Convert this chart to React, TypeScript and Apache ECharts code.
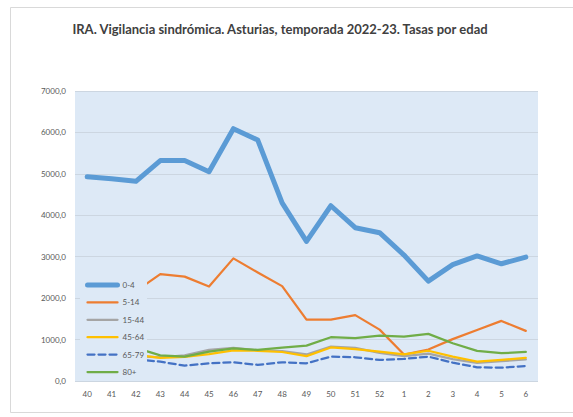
import React, { useEffect, useRef } from "react";
import * as echarts from "echarts";

const weeks = ["40","41","42","43","44","45","46","47","48","49","50","51","52","1","2","3","4","5","6"];
const s0_4 = [4930, 4880, 4820, 5320, 5320, 5050, 6090, 5815, 4300, 3370, 4230, 3700, 3580, 3040, 2410, 2810, 3020, 2830, 2990];
const s5_14 = [null, null, 2170, 2580, 2520, 2280, 2960, 2620, 2290, 1480, 1480, 1590, 1240, 640, 760, 1010, 1230, 1450, 1210];
const s15_44 = [null, null, 600, 570, 620, 750, 800, 740, 720, 640, 830, 800, 680, 600, 660, 530, 440, 480, 520];
const s45_64 = [null, null, 630, 560, 580, 650, 740, 730, 700, 600, 810, 770, 710, 640, 730, 590, 470, 510, 560];
const s65_79 = [null, null, 520, 467, 370, 428, 452, 390, 452, 428, 588, 573, 508, 532, 588, 443, 331, 322, 363];
const s80 = [null, null, 800, 620, 590, 710, 790, 750, 806, 855, 1057, 1033, 1096, 1072, 1137, 912, 726, 670, 702];
const seriesNames = ["0-4", "5-14", "15-44", "45-64", "65-79", "80+"];

const TITLE = "IRA. Vigilancia sindrómica. Asturias, temporada 2022-23. Tasas por edad";

export default function App() {
  const ref = useRef<HTMLDivElement>(null);
  useEffect(() => {
    if (!ref.current) return;
    const chart = echarts.init(ref.current, null, { renderer: "svg" });
    const font = "Lato, 'Open Sans', sans-serif";
    const mk = (name: string, data: any[], color: string, width: number, type: any = "solid") => ({
      name,
      type: "line",
      data,
      symbol: "none",
      smooth: false,
      lineStyle: { color, width, type, cap: "round", join: "round" },
      itemStyle: { color },
      z: 2,
    });
    chart.setOption({
      animation: false,
      backgroundColor: "#ffffff",
      title: {
        text: TITLE,
        left: 275,
        textAlign: "center",
        top: 17,
        textStyle: { fontFamily: font, fontSize: 13, fontWeight: "bold", color: "#404040" },
      },
      graphic: [
        {
          type: "rect",
          shape: { x: 10.5, y: 7.5, width: 600, height: 405 },
          style: { fill: "none", stroke: "#d9d9d9", lineWidth: 1 },
          silent: true,
        },
      ],
      grid: {
        left: 75,
        right: 35,
        top: 91,
        bottom: 36,
        show: true,
        backgroundColor: "#dde9f6",
        borderWidth: 0,
      },
      legend: {
        orient: "vertical",
        left: 80,
        top: 276,
        padding: [4, 3, 4, 5],
        backgroundColor: "#dde9f6",
        itemWidth: 30,
        itemHeight: 10,
        itemGap: 7.4,
        data: seriesNames,
        itemStyle: { opacity: 0 },
        lineStyle: { width: "inherit" },
        textStyle: { fontFamily: font, fontSize: 8, color: "#595959", lineHeight: 10 },
        z: 10,
      },
      xAxis: {
        type: "category",
        data: weeks,
        boundaryGap: true,
        axisLine: { show: false },
        axisTick: { show: false },
        axisLabel: { fontFamily: font, fontSize: 8, color: "#595959", margin: 9 },
      },
      yAxis: {
        type: "value",
        min: 0,
        max: 7000,
        interval: 1000,
        axisLine: { show: false },
        axisTick: { show: false },
        axisLabel: {
          fontFamily: font,
          fontSize: 8,
          color: "#595959",
          margin: 9,
          formatter: (v: number) => v.toFixed(1).replace(".", ","),
        },
        splitLine: { lineStyle: { color: "#ccd6e1", width: 1 } },
      },
      series: [
        mk("0-4", s0_4, "#5b9bd5", 5),
        mk("5-14", s5_14, "#ed7d31", 2.25),
        mk("15-44", s15_44, "#a5a5a5", 2.25),
        mk("45-64", s45_64, "#ffc000", 2.25),
        mk("65-79", s65_79, "#4472c4", 2.25, [7, 4]),
        mk("80+", s80, "#70ad47", 2.25),
      ],
    });
    return () => chart.dispose();
  }, []);
  return <div ref={ref} style={{ width: 573, height: 417, position: "absolute", left: 0, top: 0 }} />;
}
